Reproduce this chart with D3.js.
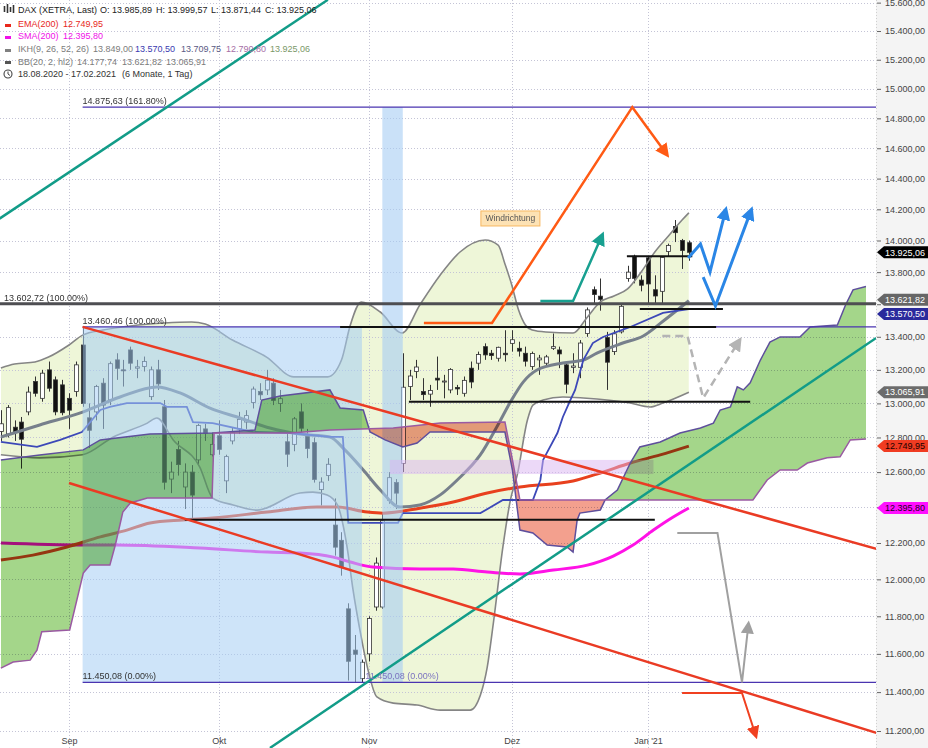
<!DOCTYPE html>
<html><head><meta charset="utf-8">
<script src="https://cdn.jsdelivr.net/npm/d3@7/dist/d3.min.js"></script>
<style>
html,body{margin:0;padding:0;background:#fff;overflow:hidden}
svg{display:block;font-family:"Liberation Sans",Arial,Helvetica,sans-serif}
</style></head><body>
<svg id="chart" width="928" height="748"></svg>
<script>
// ---------------- DATA ----------------
const opens =[12835,12820,12860,12890,12950,13130,13030,13200,13140,13110,13030,13070,13350,12915,12950,13120,13020,13260,13200,13320,13210,13220,13040,13200,12980,12560,12730,12515,12600,12670,12850,12700,12810,12550,12780,12850,12890,13005,13070,13080,13120,13000,12775,12760,12950,12810,12770,12500,12580,12300,12215,11840,11620,11470,11600,11850,11850,12440,12540,12650,13100,13190,13070,13055,13150,13130,13080,13095,13060,13210,13240,13340,13300,13270,13300,13360,13330,13300,13220,13260,13240,13330,13320,13230,13215,13215,13420,13690,13650,13395,13310,13430,13760,13900,13750,13890,13690,13680,13930,14090,14000,13985.89];
const highs =[12960,12990,12900,12920,13100,13160,13200,13250,13160,13140,13060,13250,13460,13000,13110,13150,13250,13300,13260,13340,13260,13280,13220,13260,13020,12660,12780,12650,12640,12880,12880,12830,12900,12700,12860,12950,12960,13100,13120,13200,13150,13080,12820,12920,13000,12850,12800,12570,12680,12450,12260,11870,11700,11570,11800,12120,12370,12600,12560,13300,13200,13260,13150,13110,13280,13170,13210,13110,13160,13250,13310,13360,13320,13340,13440,13440,13370,13340,13310,13290,13290,13420,13340,13250,13300,13380,13580,13710,13760,13430,13440,13600,13840,13910,13780,13900,13780,13900,13980,14131,14010,13999.57];
const lows  =[12780,12800,12780,12620,12930,13040,13010,13070,12930,12930,12850,13040,12980,12740,12900,12850,12990,13140,13100,13200,13150,13190,13020,13080,12500,12480,12580,12390,12340,12640,12780,12690,12700,12480,12760,12820,12850,12970,13020,13050,12990,12950,12630,12720,12830,12680,12540,12410,12550,12130,12020,11460,11450,11450.08,11560,11830,11840,12420,12390,12600,13020,13150,13020,12980,13080,13030,13060,13050,13040,13090,13200,13260,13260,13250,13250,13310,13280,13220,13200,13170,13220,13320,13210,13060,13180,13150,13400,13600,13560,13080,13290,13420,13740,13730,13680,13600,13600,13600,13900,13990,13820,13871.44];
const closes=[12880,12975,12830,12790,13067,13060,13180,13090,12950,12945,12960,13230,13000,12842,13100,12990,13237,13209,13195,13240,13218,13250,13200,13116,12542,12600,12643,12600,12469,12870,12825,12760,12731,12689,12828,12906,12928,13085,13051,13138,13018,13028,12703,12909,12854,12736,12558,12543,12645,12177,12064,11561,11598,11556,11788,12089,12324,12568,12480,13096,13163,13217,13052,13077,13139,13133,13202,13086,13137,13127,13292,13290,13286,13336,13291,13382,13313,13252,13298,13271,13278,13340,13296,13114,13223,13362,13565,13660,13630,13246,13418,13587,13800,13761,13718,13726,13651,13892,13968,14050,13937,13925.06];

const monthLabels=["Sep","Okt","Nov","Dez","Jan '21"];
const monthIndex=[10,32,54,75,95];
const priceTicks=[11200,11400,11600,11800,12000,12200,12400,12600,12800,13000,13200,13400,13600,13800,14000,14200,14400,14600,14800,15000,15200,15400,15600];
const hiddenTickLabels=[13600]; // covered by the price tags in the original

// indicator lines: [bar index, price]
const bbUpper=[[0,13211],[2,13235],[5,13247],[7,13277],[10,13350],[12,13410],[15,13441],[19,13466],[24,13484],[28,13490],[30,13478],[34,13380],[39,13277],[43,13158],[48,13158],[50,13259],[51.3,13472],[52.9,13614],[55.7,13552],[58.9,13423],[61.5,13595],[64.5,13782],[67.4,13927],[71.1,14003],[73,13971],[74,13851],[75,13720],[76,13564],[77,13472],[78,13441],[80,13429],[84,13423],[86,13515],[88,13614],[90,13651],[92,13695],[94,13801],[96,13927],[98,14029],[100,14131],[101,14177.74]];
const bbMid=[[0,12803],[5.7,12873],[12,12949],[17.5,13038],[22.9,13098],[26.3,13062],[30.7,12972],[35.1,12914],[39.5,12855],[43.9,12820],[48.3,12803],[50.5,12728],[53.2,12612],[55.7,12498],[58.6,12401],[61.5,12413],[64.5,12470],[67,12555],[70.4,12700],[72.8,12861],[74.8,13008],[76.7,13128],[78.7,13199],[82.5,13241],[85.5,13259],[87.5,13301],[91.3,13362],[94.3,13405],[97.2,13495],[101,13621.82]];
const bbLower=[[0,12700],[5.7,12682],[12,12700],[16.5,12803],[21.5,12884],[22.9,12914],[25.3,12786],[29.2,12629],[31.1,12452],[34.1,12413],[37.6,12384],[43.9,12481],[45.8,12486],[47.9,12469],[49.4,12413],[50.8,12183],[51.7,11942],[52.7,11727],[53.8,11530],[55.2,11375],[57.6,11343],[61.1,11333],[64.5,11307],[68.9,11307],[70.4,11385],[71.4,11530],[72.3,11764],[73.7,12178],[74.8,12441],[75.8,12583],[77.3,12902],[78.1,12990],[79.6,13020],[82.5,13038],[85.5,13032],[92.4,13002],[95.3,12979],[97.2,13002],[101,13065.91]];
const kijun=[[0,12774],[5.3,12745],[8.7,12786],[11.9,12832],[14.6,12961],[16,12979],[18.5,13002],[23.4,13002],[24.4,12979],[27.3,12979],[28.2,12890],[31.1,12884],[37,12832],[42.5,12826],[48.3,12803],[50.2,12803],[51,12312],[58.3,12312],[59,12367],[70.4,12367],[73.7,12441],[78.1,12441],[79.2,12555],[79.6,12670],[81.7,12826],[82.5,12920],[83.6,13020],[84.3,13080],[85.5,13259],[86.9,13362],[88.4,13399],[92.4,13460],[97.2,13546],[101,13570.50]];
const ema200=[[0,12106],[4.7,12133],[9.7,12178],[14.6,12234],[18.5,12272],[21.9,12312],[26.7,12329],[31.1,12340],[39.1,12373],[46.4,12401],[49.4,12401],[53.8,12373],[56.1,12367],[61.5,12395],[66.4,12430],[71.4,12481],[76.2,12515],[84,12549],[88,12595],[92.4,12652],[96.8,12699],[101,12749.95]];
const sma200=[[0,12200],[12,12189],[17,12189],[29.2,12172],[39.1,12150],[43.9,12145],[48.8,12122],[51.3,12095],[54.6,12067],[61.5,12056],[66.4,12056],[71.4,12040],[76.2,12029],[81.1,12051],[86.1,12078],[89.9,12128],[92.8,12189],[95.8,12272],[98.7,12345],[101,12395.80]];
const spanA=[[0,12670],[5.7,12699],[12.1,12728],[14.6,12786],[21.9,12820],[31.1,12826],[37.3,12843],[38.3,13020],[41,13044],[48.3,13080],[49.8,12973],[53.2,12961],[54.2,12832],[56.4,12786],[59,12745],[61.1,12768],[63,12832],[74,12832],[75.1,12612],[76.2,12272],[78.1,12256],[80.2,12189],[83.1,12178],[84,12150],[84.6,12329],[85,12367],[88,12384],[88.7,12441],[90.5,12498],[92.4,12652],[93.8,12745],[96.8,12774],[99.7,12826],[102.7,12855],[104.6,12884],[105.6,12961],[107.1,12979],[108.1,13098],[109,13080],[110,13122],[111.5,13259],[112.9,13368],[114.4,13399],[117.3,13399],[118.8,13460],[122.8,13472],[124,13595],[125.1,13689],[127,13709.75]];
const spanB=[[0,11525],[1.8,11557],[4.3,11567],[5.3,11620],[6,11717],[10.1,11727],[12.1,12034],[13.1,12078],[16,12078],[16.8,12189],[17.9,12373],[19,12424],[21.5,12452],[31,12452],[31.3,12826],[42.5,12826],[48.3,12843],[57.6,12855],[64.5,12884],[74,12890],[75.1,12670],[76.2,12441],[88.7,12441],[102.7,12441],[110.4,12441],[112.5,12555],[114.4,12612],[116.9,12612],[118.4,12652],[121.3,12682],[123.2,12688],[124.7,12786],[127,12790.80]];

// drawings
const fibLevels=[14875.63,13460.46,11450.08];
const fibLabels=["14.875,63 (161.80%)","13.460,46 (100.00%)","11.450,08 (0.00%)"];
const fibStart=12;
const thickLevel=13602.72, thickLabel="13.602,72 (100.00%)";
const supportLines=[[91.9,101.5,13900],[93.8,106,13570],[49.8,105,13460.46],[59.9,110,13010],[27,96,12330]];
const fibZone=[12,53,11450.08,13460.46];
const fibBand=[56,59,11450.08,14875.63];
const lilacZone=[57.1,95.8,12589,12670];
const tealLine1=[[-0.2,14140],[48,15620]];
const tealLine2=[[39.5,11114],[128.5,13393]];
const redLine1=[[12,13460.46],[128.6,12167]];
const redLine2=[[10,12538],[128.6,11190]];
const orangeArrow=[[62.1,13484],[72.1,13484],[92.7,14875.63],[97.5,14575]];
const tealArrow=[[79.2,13620],[84.0,13620],[88.1,14017]];
const blueArrow1=[[100.9,13889],[102.7,13978],[104.1,13801],[106.3,14177]];
const blueArrow2=[[103.1,13769],[104.9,13589],[110.0,14177]];
const greyDashArrow=[[97.1,13405],[100.8,13405],[103.1,13032],[108.2,13363]];
const greyArrow=[[99.3,12256],[105.2,12256],[108.8,11450.08],[109.7,11743]];
const redArrow=[[100.0,11395],[108.8,11395],[110.7,11190]];
const noteText="Windrichtung", notePos=[74.8,14141];

const badgeValues=[13570.50,13621.82,13925.06,13065.91,12749.95,12395.80];
const badgeFill=["#2a2a9c","#666666","#000000","#6c6c6c","#f03c22","#ff10ff"];
const badgeText=["#ffffff","#ffffff","#ffffff","#ffffff","#1a0000","#1a001a"];
const badgeShift=[5,-1,0,0,0,0];

// ---------------- CHART ----------------
const W=928,H=748,PR=876;
const svg=d3.select("#chart");
const x=d3.scaleLinear().domain([10,95]).range([69,648]);
const y=d3.scaleLog().domain([11200,15400]).range([731,31]);
const loc=d3.formatLocale({decimal:",",thousands:".",grouping:[3],currency:["",""]});
const fmt=loc.format(",.2f");
const defs=svg.append("defs");
defs.append("clipPath").attr("id","plotClip").append("rect").attr("width",PR).attr("height",H);

svg.append("rect").attr("x",PR).attr("width",W-PR).attr("height",H).attr("fill","#f4f4f4");
const plot=svg.append("g").attr("clip-path","url(#plotClip)");

const areaAbove=(pts,c)=>d3.area().x(d=>x(d[0])).y0(0).y1(d=>y(d[1])).curve(c)(pts);
const areaBelow=(pts,c)=>d3.area().x(d=>x(d[0])).y0(H).y1(d=>y(d[1])).curve(c)(pts);
const line=(c)=>d3.line().x(d=>x(d[0])).y(d=>y(d[1])).curve(c);
function clip(id,d){defs.append("clipPath").attr("id",id).append("path").attr("d",d);}

// BB fill
clip("clipBBLow",areaAbove(bbLower,d3.curveMonotoneX));
plot.append("path").attr("d",areaBelow(bbUpper,d3.curveMonotoneX)).attr("clip-path","url(#clipBBLow)").attr("fill","#eef6d8");

// grid
const grid=plot.append("g").attr("stroke","#c4c4d6").attr("stroke-dasharray","1,2").attr("stroke-width",1);
grid.selectAll("line.h").data(priceTicks).join("line").attr("x1",0).attr("x2",PR).attr("y1",d=>Math.round(y(d))+0.5).attr("y2",d=>Math.round(y(d))+0.5);
grid.selectAll("line.v").data(monthIndex).join("line").attr("class","v").attr("y1",0).attr("y2",H).attr("x1",d=>Math.round(x(d))+0.5).attr("x2",d=>Math.round(x(d))+0.5);

// candles
const idx=d3.range(opens.length);
const cg=plot.append("g");
cg.selectAll("line").data(idx).join("line").attr("x1",i=>Math.round(x(i))+0.5).attr("x2",i=>Math.round(x(i))+0.5).attr("y1",i=>y(highs[i])).attr("y2",i=>y(lows[i])).attr("stroke","#333").attr("stroke-width",1);
cg.selectAll("rect").data(idx).join("rect").attr("x",i=>Math.round(x(i))-1.5).attr("width",4)
  .attr("y",i=>y(Math.max(opens[i],closes[i]))).attr("height",i=>Math.max(1,y(Math.min(opens[i],closes[i]))-y(Math.max(opens[i],closes[i]))))
  .attr("fill",i=>closes[i]>=opens[i]?"#ffffff":"#111111").attr("stroke","#333").attr("stroke-width",0.8);

// indicator lines
plot.append("path").attr("d",line(d3.curveMonotoneX)(sma200)).attr("fill","none").attr("stroke","#ff12e6").attr("stroke-width",3);
plot.append("path").attr("d",line(d3.curveMonotoneX)(ema200)).attr("fill","none").attr("stroke","#e8401e").attr("stroke-width",3);
plot.append("path").attr("d",line(d3.curveMonotoneX)(bbUpper)).attr("fill","none").attr("stroke","#858585").attr("stroke-width",1.6);
plot.append("path").attr("d",line(d3.curveMonotoneX)(bbLower)).attr("fill","none").attr("stroke","#858585").attr("stroke-width",1.6);
plot.append("path").attr("d",line(d3.curveMonotoneX)(bbMid)).attr("fill","none").attr("stroke","#77808c").attr("stroke-width",3);
plot.append("path").attr("d",line(d3.curveLinear)(kijun)).attr("fill","none").attr("stroke","#3c48b8").attr("stroke-width",1.8);

// fib zones
function zone(z,fill,op){plot.append("rect").attr("x",x(z[0])).attr("width",x(z[1])-x(z[0])).attr("y",y(z[3])).attr("height",y(z[2])-y(z[3])).attr("fill",fill).attr("opacity",op);}
zone(fibZone,"#a6cdf4",0.55);
zone(fibBand,"#a6cdf4",0.6);
zone(lilacZone,"#d9b3f2",0.5);

// cloud
clip("clipAboveB",areaAbove(spanB,d3.curveLinear));
clip("clipAboveA",areaAbove(spanA,d3.curveLinear));
const cloud=plot.append("g").style("mix-blend-mode","multiply");
cloud.append("path").attr("d",areaBelow(spanA,d3.curveLinear)).attr("clip-path","url(#clipAboveB)").attr("fill","#a4d68a");
cloud.append("path").attr("d",areaBelow(spanB,d3.curveLinear)).attr("clip-path","url(#clipAboveA)").attr("fill","#f3a08e");
plot.append("path").attr("d",line(d3.curveLinear)(spanA)).attr("fill","none").attr("stroke","#5e4f9c").attr("stroke-width",1.5);
plot.append("path").attr("d",line(d3.curveLinear)(spanB)).attr("fill","none").attr("stroke","#9a5aa2").attr("stroke-width",1.5);

// horizontal levels
plot.append("line").attr("x1",0).attr("x2",PR).attr("y1",y(thickLevel)).attr("y2",y(thickLevel)).attr("stroke","#4e4e52").attr("stroke-width",3);
plot.selectAll("line.fib").data(fibLevels).join("line").attr("class","fib").attr("x1",x(fibStart)).attr("x2",PR).attr("y1",d=>y(d)).attr("y2",d=>y(d)).attr("stroke","#4a34b0").attr("stroke-width",1.3);
plot.selectAll("line.sup").data(supportLines).join("line").attr("class","sup").attr("x1",d=>x(d[0])).attr("x2",d=>x(d[1])).attr("y1",d=>y(d[2])).attr("y2",d=>y(d[2])).attr("stroke","#111").attr("stroke-width",2);

// trend lines
[[tealLine1,"#129c88"],[tealLine2,"#129c88"],[redLine1,"#ea3b24"],[redLine2,"#ea3b24"]].forEach(([p,c])=>{
  plot.append("path").attr("d",line(d3.curveLinear)(p)).attr("fill","none").attr("stroke",c).attr("stroke-width",2.5);
});

// arrows
function marker(id,color,s){defs.append("marker").attr("id",id).attr("viewBox","0 0 10 10").attr("refX",5).attr("refY",5)
  .attr("markerWidth",s).attr("markerHeight",s).attr("markerUnits","userSpaceOnUse").attr("orient","auto")
  .append("path").attr("d","M0,0 L10,5 L0,10 z").attr("fill",color);}
marker("mOr","#ff5a14",14);marker("mTe","#18a090",14);marker("mBl","#2a86e6",14);marker("mGd","#b4b4b4",14);marker("mGr","#a0a0a0",13);marker("mRd","#f04020",13);
function arrow(p,c,w,m,dash){const pa=plot.append("path").attr("d",line(d3.curveLinear)(p)).attr("fill","none").attr("stroke",c).attr("stroke-width",w).attr("stroke-linejoin","miter").attr("marker-end","url(#"+m+")");if(dash)pa.attr("stroke-dasharray",dash);}
arrow(orangeArrow,"#ff5a14",2.5,"mOr");
arrow(tealArrow,"#18a090",2.5,"mTe");
arrow(blueArrow1,"#2a86e6",3,"mBl");
arrow(blueArrow2,"#2a86e6",3,"mBl");
arrow(greyDashArrow,"#b4b4b4",2.5,"mGd","8,5");
arrow(greyArrow,"#a0a0a0",2,"mGr");
arrow(redArrow,"#f04020",2,"mRd");

// labels on levels
const lbl=plot.append("g").attr("font-size",9).attr("fill","#333");
lbl.selectAll("text.f").data(fibLevels).join("text").attr("class","f").attr("x",x(fibStart)).attr("y",d=>y(d)-3).text((d,i)=>fibLabels[i]);
lbl.append("text").attr("x",x(53.5)).attr("y",y(fibLevels[2])-3).attr("fill","#7c74c0").text(fibLabels[2]);
lbl.append("text").attr("x",4).attr("y",y(thickLevel)-3).text(thickLabel);

// note box
const nx=x(notePos[0]), ny=y(notePos[1]);
plot.append("rect").attr("x",nx-29.5).attr("y",ny-7.5).attr("width",59).attr("height",15).attr("fill","#fde2b4").attr("stroke","#f7b862").attr("stroke-width",1);
plot.append("text").attr("x",nx).attr("y",ny+3).attr("text-anchor","middle").attr("font-size",8.5).attr("fill","#555").text(noteText);

// divider
svg.append("line").attr("x1",PR+0.5).attr("x2",PR+0.5).attr("y1",0).attr("y2",H).attr("stroke","#d0d0d0").attr("stroke-dasharray","1,2");

// right axis
const ax=svg.append("g").attr("transform",`translate(${PR+1},0)`).call(d3.axisRight(y).tickValues(priceTicks).tickFormat(d=>hiddenTickLabels.includes(d)?"":fmt(d)).tickSize(4).tickPadding(4));
ax.select(".domain").remove();
ax.selectAll("text").attr("font-size",9).attr("fill","#444").attr("font-family","Liberation Sans, Arial, sans-serif");
ax.selectAll("line").attr("stroke","#666");

// badges
const bg=svg.append("g");
badgeValues.forEach((v,i)=>{
  const by=y(v)+badgeShift[i];
  bg.append("path").attr("d",`M${PR+1},${by} L${PR+8},${by-6} L${W},${by-6} L${W},${by+6} L${PR+8},${by+6} Z`).attr("fill",badgeFill[i]);
  bg.append("text").attr("x",PR+9).attr("y",by+3.2).attr("font-size",9).attr("fill",badgeText[i]).text(fmt(v));
});

// x axis
const xa=svg.append("g").attr("transform","translate(0,735)").call(d3.axisBottom(x).tickValues(monthIndex).tickFormat((d,i)=>monthLabels[i]).tickSize(0).tickPadding(3));
xa.select(".domain").remove();
xa.selectAll("text").attr("font-size",9).attr("fill","#444").attr("font-family","Liberation Sans, Arial, sans-serif");

// legend
const lg=svg.append("g").attr("font-size",9);
function row(yb,parts){const t=lg.append("text").attr("y",yb);parts.forEach(([tx,px,c])=>t.append("tspan").attr("x",px).attr("fill",c).text(tx));}
row(13,[["DAX (XETRA, Last)",18,"#222"],["O: 13.985,89",100,"#222"],["H: 13.999,57",156,"#222"],["L: 13.871,44",211,"#222"],["C: 13.925,06",265,"#222"]]);
row(27,[["EMA(200)",18,"#e8281c"],["12.749,95",63,"#e8281c"]]);
row(39,[["SMA(200)",18,"#f010e8"],["12.395,80",63,"#f010e8"]]);
row(52,[["IKH(9, 26, 52, 26)",18,"#7c7c7c"],["13.849,00",93,"#7c7c7c"],["13.570,50",135,"#3a3ab0"],["13.709,75",181,"#5a5a84"],["12.790,80",226,"#a66ea6"],["13.925,06",270,"#7a9868"]]);
row(65,[["BB(20, 2, hl2)",18,"#7c7c7c"],["14.177,74",77,"#7c7c7c"],["13.621,82",122,"#7c7c7c"],["13.065,91",166,"#7c7c7c"]]);
row(77,[["18.08.2020 - 17.02.2021",18,"#333"],["(6 Monate, 1 Tag)",122,"#333"]]);
// legend icons
lg.append("rect").attr("x",5).attr("y",24).attr("width",6).attr("height",3).attr("fill","#e8281c");
lg.append("rect").attr("x",5).attr("y",36).attr("width",6).attr("height",3).attr("fill","#f010e8");
lg.append("rect").attr("x",5).attr("y",49).attr("width",6).attr("height",3).attr("fill","#808080");
lg.append("rect").attr("x",5).attr("y",61).attr("width",6).attr("height",3).attr("fill","#555");
[[4,6,12],[7,4,13],[10,7,12],[13,5,13]].forEach(([bx,t,b])=>lg.append("line").attr("x1",bx+0.5).attr("x2",bx+0.5).attr("y1",t).attr("y2",b).attr("stroke","#333").attr("stroke-width",1.6));
lg.append("circle").attr("cx",8).attr("cy",74).attr("r",4).attr("fill","none").attr("stroke","#444").attr("stroke-width",1.1);
lg.append("path").attr("d","M8,71.5 L8,74 L10,75.5").attr("fill","none").attr("stroke","#444").attr("stroke-width",1);
</script></body></html>
